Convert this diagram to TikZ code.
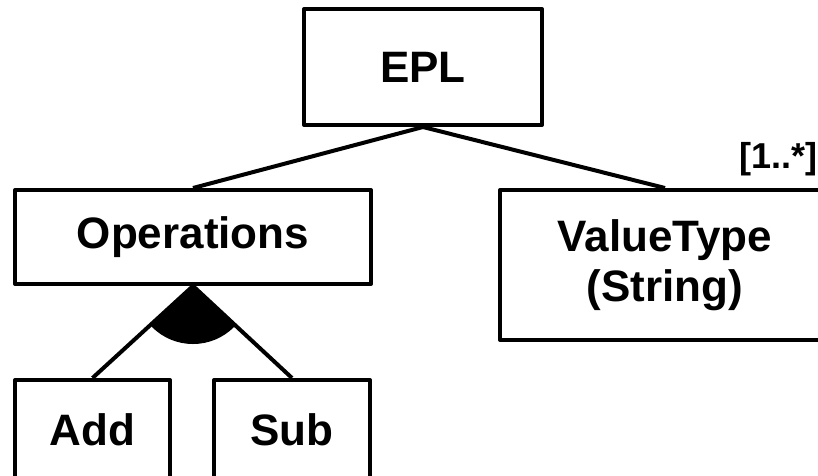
\documentclass[tikz,border=0pt]{standalone}
\usepackage{fontspec}
\setmainfont{Liberation Sans}
\begin{document}
\begin{tikzpicture}[x=1pt,y=-1pt,
  feat/.style={draw=black, line width=4pt, line join=round, inner sep=0pt, align=center,
    font=\fontsize{44}{50}\selectfont\bfseries},
  conn/.style={line width=4pt}]
\useasboundingbox (0,0) rectangle (818,475);
\clip (0,0) rectangle (818,475);
\node[feat, minimum width=238pt, minimum height=116pt] (epl) at (423,67) {EPL};
\node[feat, minimum width=356pt, minimum height=94pt] (ops) at (193,237) {Operations};
\node[feat, minimum width=330pt, minimum height=150pt] (vt) at (665,265) {ValueType\\(String)};
\node[feat, minimum width=155pt, minimum height=100pt] (add) at (92.5,430) {Add};
\node[feat, minimum width=156pt, minimum height=100pt] (sub) at (292,430) {Sub};
\node[anchor=base east, inner sep=0pt, font=\fontsize{36}{40}\selectfont\bfseries] (card) at (818,168) {[1..*]};
\draw[conn] (epl.south) -- (ops.north);
\draw[conn] (epl.south) -- (vt.north);
\draw[conn] (ops.south) -- (add.north);
\draw[conn] (ops.south) -- (sub.north);
\begin{scope}
  \clip (ops.south) -- (add.north) -- (sub.north) -- cycle;
  \fill (ops.south) circle (58pt);
\end{scope}
\end{tikzpicture}
\end{document}
